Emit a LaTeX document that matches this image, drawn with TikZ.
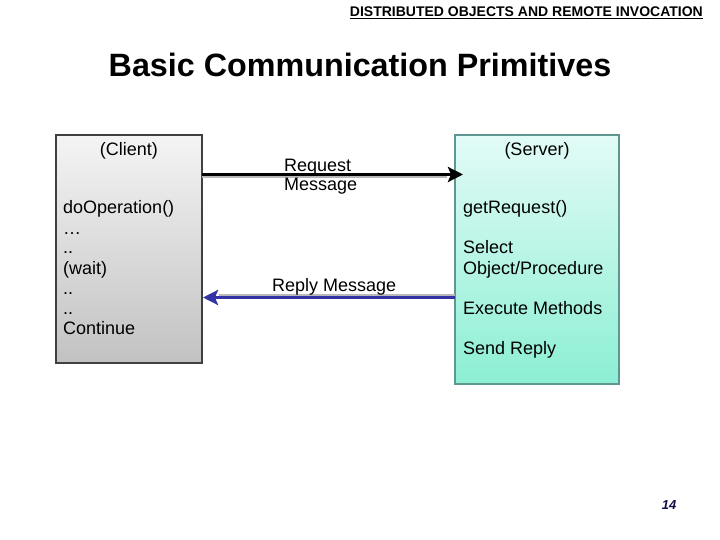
\documentclass[tikz,border=0pt]{standalone}
\usepackage{fontspec}
\setmainfont{Liberation Sans}
\usetikzlibrary{arrows.meta}
\definecolor{clitop}{HTML}{F4F4F4}
\definecolor{clibot}{HTML}{C2C2C2}
\definecolor{srvtop}{HTML}{E2FBF6}
\definecolor{srvbot}{HTML}{8CEFD4}
\definecolor{srvedge}{HTML}{5F9690}
\definecolor{replyblue}{HTML}{3333A6}
\definecolor{pagenum}{HTML}{0E0E4A}
\tikzset{
  body/.style={font=\fontsize{18}{20}\selectfont, inner sep=0pt},
  lbl/.style={body, anchor=base west},
  ctr/.style={body, anchor=base},
  clientbox/.style={draw=black!75, line width=1.2pt, top color=clitop, bottom color=clibot},
  serverbox/.style={draw=srvedge, line width=1.2pt, top color=srvtop, bottom color=srvbot},
  shadowline/.style={line width=1.8pt, black!28},
  reqarrow/.style={line width=3.6pt, black, -{Stealth[length=15pt,width=15pt,inset=3pt]}},
  reparrow/.style={line width=3.6pt, replyblue, -{Stealth[length=15pt,width=15pt,inset=3pt]}}
}
\begin{document}
\begin{tikzpicture}[x=1pt,y=-1pt]
\useasboundingbox (0,0) rectangle (720,540);
% header
\node (hdr) [anchor=base east, inner sep=0pt, font=\fontsize{14}{16}\selectfont\bfseries] at (703,17) {\underline{DISTRIBUTED OBJECTS AND REMOTE INVOCATION}};
\node (title) [anchor=base, inner sep=0pt, font=\fontsize{32.3}{36}\selectfont\bfseries] at (360,77) {Basic Communication Primitives};
% boxes
\path[clientbox] (56,135) rectangle (202,363);
\coordinate (cliE1) at (202,174.5);
\coordinate (cliE2) at (203,297.5);
\path[serverbox] (455,135) rectangle (619,384);
\coordinate (srvW1) at (463,174.5);
\coordinate (srvW2) at (455,297.5);
% client text
\node (cli) [ctr] at (129,156) {(Client)};
\node (c1) [lbl] at (63,214) {doOperation()};
\node (c2) [lbl] at (63,234) {\ldots};
\node (c3) [lbl] at (63,254) {..};
\node (c4) [lbl] at (63,274) {(wait)};
\node (c5) [lbl] at (63,294) {..};
\node (c6) [lbl] at (63,314) {..};
\node (c7) [lbl] at (63,334) {Continue};
% server text
\node (srv) [ctr] at (537,156) {(Server)};
\node (s1) [lbl] at (463,214) {getRequest()};
\node (s2) [lbl] at (463,254) {Select};
\node (s3) [lbl] at (463,274) {Object/Procedure};
\node (s4) [lbl] at (463,314) {Execute Methods};
\node (s5) [lbl] at (463,354) {Send Reply};
% arrows
\draw[shadowline] ([yshift=-2.6pt]cliE1) -- ([xshift=-16pt,yshift=-2.6pt]srvW1);
\draw[reqarrow] (cliE1) -- (srvW1);
\draw[shadowline] ([yshift=2.6pt]srvW2) -- ([xshift=16pt,yshift=2.6pt]cliE2);
\draw[reparrow] (srvW2) -- (cliE2);
% labels
\node (rq1) [lbl] at (284,172) {Request};
\node (rq2) [lbl] at (284,191) {Message};
\node (rp) [lbl] at (272,291) {Reply Message};
% page number
\node (pg) [anchor=base, inner sep=0pt, text=pagenum, font=\fontsize{13}{15}\selectfont\bfseries\itshape] at (669,509) {14};
\end{tikzpicture}
\end{document}
